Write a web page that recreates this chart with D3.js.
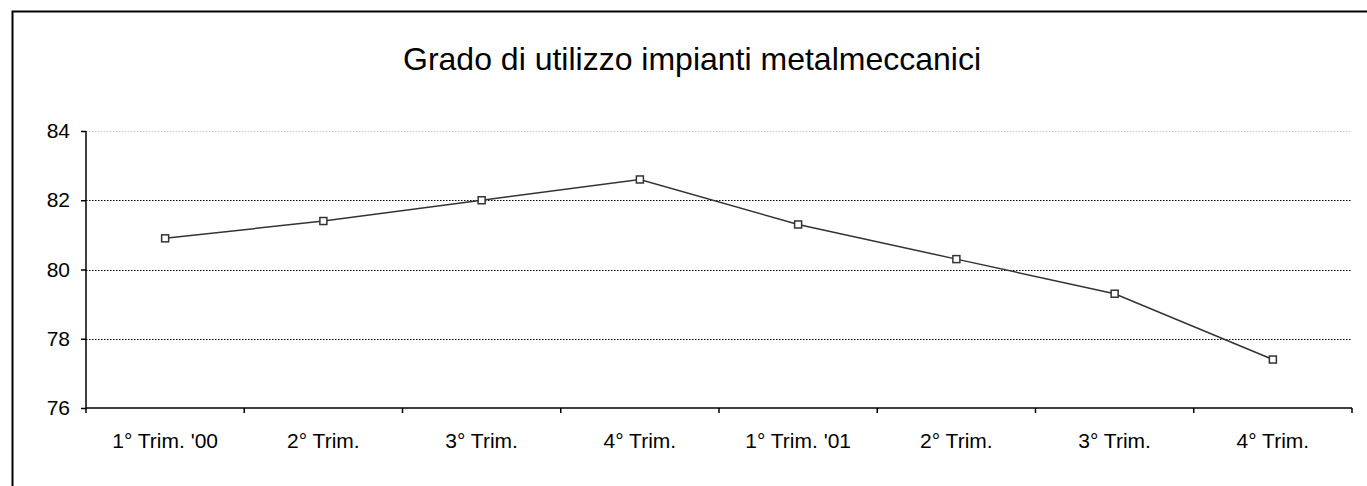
<!DOCTYPE html>
<html>
<head>
<meta charset="utf-8">
<script src="https://cdn.jsdelivr.net/npm/d3@7"></script>
<style>
  body { margin: 0; background: #fff; }
  svg { display: block; font-family: "Liberation Sans", Arial, sans-serif; }
</style>
</head>
<body>
<svg id="chart" width="1367" height="486"></svg>
<script>
// dati
const categories = ["1° Trim. '00", "2° Trim.", "3° Trim.", "4° Trim.", "1° Trim. '01", "2° Trim.", "3° Trim.", "4° Trim."];
const values = [80.9, 81.4, 82.0, 82.6, 81.3, 80.3, 79.3, 77.4];
const yTicks = [76, 78, 80, 82, 84];
const title = "Grado di utilizzo impianti metalmeccanici";

const svg = d3.select("#chart");

// cornice esterna (solo lati alto e sinistro visibili)
svg.append("path")
    .attr("d", "M12.5,486 V11.5 H1367")
    .attr("fill", "none")
    .attr("stroke", "#000")
    .attr("stroke-width", 2);

const plotL = 86, plotR = 1352, plotT = 131, plotB = 408;

const x = d3.scaleBand().domain(d3.range(categories.length)).range([plotL, plotR]);
const y = d3.scaleLinear().domain([76, 84]).range([plotB, plotT]);

// griglia
svg.append("g").selectAll("line")
    .data(yTicks.filter(d => d > 76))
    .enter().append("line")
    .attr("x1", plotL).attr("x2", plotR)
    .attr("y1", d => Math.round(y(d)) + 0.5)
    .attr("y2", d => Math.round(y(d)) + 0.5)
    .attr("stroke", d => d === 84 ? "#c8c8c8" : "#000")
    .attr("stroke-width", 1)
    .attr("stroke-dasharray", "1.5,1.5");

// assi
const yAxis = svg.append("g")
    .attr("transform", `translate(${plotL},0)`)
    .call(d3.axisLeft(y).tickValues(yTicks).tickSize(5).tickPadding(11).tickFormat(d3.format("d")));
yAxis.attr("font-size", null).attr("font-family", null);
yAxis.select(".domain").attr("stroke-width", 1.5).attr("d", `M0,${plotT}V${plotB}`);
yAxis.selectAll(".tick line").attr("stroke-width", 1.5);
yAxis.selectAll("text").style("font-size", "21px").attr("fill", "#000");

const xAxis = svg.append("g")
    .attr("transform", `translate(0,${plotB})`);
xAxis.append("line")
    .attr("x1", plotL).attr("x2", plotR)
    .attr("stroke", "#000").attr("stroke-width", 1.5);
xAxis.selectAll(".xt")
    .data(d3.range(categories.length + 1))
    .enter().append("line")
    .attr("class", "xt")
    .attr("x1", i => i < categories.length ? x(i) : plotR)
    .attr("x2", i => i < categories.length ? x(i) : plotR)
    .attr("y1", 0).attr("y2", 5)
    .attr("stroke", "#000").attr("stroke-width", 1.5);
xAxis.selectAll("text")
    .data(categories)
    .enter().append("text")
    .attr("x", (d, i) => x(i) + x.bandwidth() / 2)
    .attr("y", 40)
    .attr("text-anchor", "middle")
    .style("font-size", "21px")
    .text(d => d);

// linea
const line = d3.line()
    .x((d, i) => x(i) + x.bandwidth() / 2)
    .y(d => y(d));

svg.append("path")
    .datum(values)
    .attr("d", line)
    .attr("fill", "none")
    .attr("stroke", "#333")
    .attr("stroke-width", 1.5);

svg.append("g").selectAll("rect")
    .data(values)
    .enter().append("rect")
    .attr("x", (d, i) => x(i) + x.bandwidth() / 2 - 3.5)
    .attr("y", d => y(d) - 3.5)
    .attr("width", 7).attr("height", 7)
    .attr("fill", "#fff")
    .attr("stroke", "#333")
    .attr("stroke-width", 1.5);

// titolo
svg.append("text")
    .attr("x", 692)
    .attr("y", 70)
    .attr("text-anchor", "middle")
    .style("font-size", "32px")
    .text(title);
</script>
</body>
</html>
